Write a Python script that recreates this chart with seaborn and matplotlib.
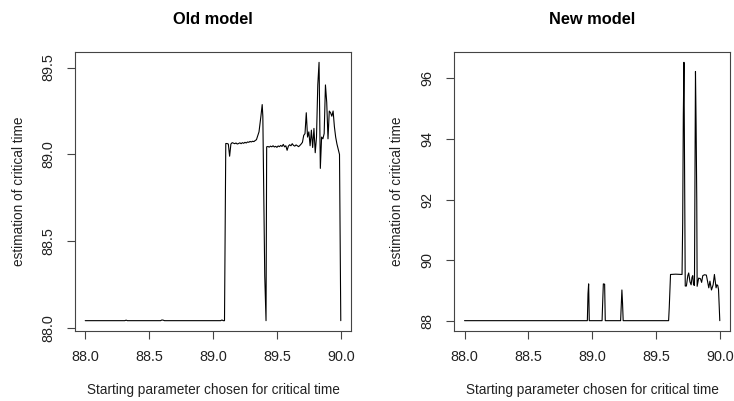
import numpy as np
import pandas as pd
import matplotlib
matplotlib.use("Agg")
import matplotlib.pyplot as plt
import seaborn as sns

# ---- Old model: estimate vs. starting parameter ----
old_x = [88.00, 88.31, 88.32, 88.33, 88.59, 88.60, 88.61, 88.62, 89.06, 89.07, 89.08, 89.09,
         89.10, 89.11, 89.12, 89.13, 89.14, 89.15, 89.16, 89.17, 89.18, 89.19, 89.20,
         89.21, 89.22, 89.23, 89.24, 89.25, 89.26, 89.27, 89.28, 89.29, 89.30, 89.31,
         89.32, 89.33, 89.34, 89.36, 89.375, 89.385, 89.39, 89.405, 89.415, 89.42,
         89.43, 89.44, 89.45, 89.46, 89.47, 89.48, 89.49, 89.50, 89.51, 89.52, 89.53,
         89.54, 89.55, 89.56, 89.57, 89.58, 89.59, 89.60, 89.61, 89.62, 89.63, 89.64,
         89.65, 89.66, 89.67, 89.68, 89.69, 89.70, 89.71, 89.72, 89.73, 89.74, 89.75,
         89.76, 89.77, 89.78, 89.79, 89.80, 89.81, 89.82, 89.83, 89.84, 89.85, 89.86,
         89.87, 89.88, 89.89, 89.90, 89.91, 89.92, 89.93, 89.94, 89.95, 89.96, 89.97,
         89.98, 89.99, 90.00]
old_y = [88.044, 88.044, 88.047, 88.044, 88.044, 88.048, 88.047, 88.044, 88.044, 88.048, 88.044, 88.044,
         89.063, 89.063, 89.060, 88.990, 89.060, 89.068, 89.065, 89.062, 89.066, 89.060, 89.063,
         89.067, 89.062, 89.068, 89.064, 89.070, 89.066, 89.072, 89.070, 89.075, 89.072, 89.076,
         89.074, 89.080, 89.085, 89.130, 89.220, 89.287, 89.220, 88.300, 88.044, 89.044,
         89.046, 89.042, 89.048, 89.044, 89.050, 89.043, 89.047, 89.041, 89.049, 89.045, 89.052,
         89.046, 89.058, 89.044, 89.050, 89.024, 89.048, 89.056, 89.050, 89.062, 89.052, 89.048,
         89.055, 89.050, 89.045, 89.052, 89.060, 89.070, 89.110, 89.120, 89.240, 89.100, 89.130,
         89.050, 89.140, 89.040, 89.150, 89.010, 89.100, 89.400, 89.530, 88.920, 89.100, 89.090,
         89.120, 89.400, 89.300, 89.090, 89.250, 89.240, 89.220, 89.250, 89.160, 89.100, 89.060,
         89.030, 89.000, 88.044]

# ---- New model: estimate vs. starting parameter ----
new_x = [88.00, 88.96, 88.965, 88.97, 88.975, 89.075, 89.08, 89.085, 89.095, 89.10,
         89.22, 89.23, 89.235, 89.24, 89.595, 89.60, 89.61, 89.65, 89.70,
         89.705, 89.71, 89.715, 89.725, 89.734, 89.745, 89.752, 89.762, 89.771, 89.778,
         89.784, 89.79, 89.797, 89.805, 89.81, 89.815, 89.818, 89.83, 89.844, 89.853,
         89.862, 89.875, 89.89, 89.90, 89.909, 89.918, 89.93, 89.943, 89.953, 89.96,
         89.966, 89.972, 89.979, 89.985, 89.99, 89.995]
new_y = [88.02, 88.02, 88.90, 89.23, 88.02, 88.02, 88.65, 89.23, 89.22, 88.02,
         88.02, 89.03, 88.60, 88.02, 88.02, 88.45, 89.54, 89.55, 89.54,
         91.23, 94.78, 96.52, 89.16, 89.16, 89.50, 89.59, 89.30, 89.20, 89.45,
         89.50, 89.20, 89.18, 96.22, 94.43, 92.00, 89.15, 89.42, 89.40, 89.28,
         89.50, 89.53, 89.52, 89.30, 89.10, 89.32, 89.03, 89.20, 89.54, 89.30,
         89.10, 89.20, 89.18, 89.05, 88.55, 88.02]

old_xticks = [88.0, 88.5, 89.0, 89.5, 90.0]
old_yticks = [88.0, 88.5, 89.0, 89.5]
new_xticks = [88.0, 88.5, 89.0, 89.5, 90.0]
new_yticks = [88, 90, 92, 94, 96]

sns.set_theme(style="ticks")
plt.rcParams["font.family"] = ["Liberation Sans", "DejaVu Sans"]

W, H = 734, 401
fig = plt.figure(figsize=(W / 100, H / 100), dpi=100)

def px_axes(left, top, right, bottom):
    return fig.add_axes([left / W, 1 - bottom / H, (right - left) / W, (bottom - top) / H])

panels = [
    (px_axes(75, 52, 351, 331), old_x, old_y, "Old model", old_xticks, old_yticks, "%.1f", -0.204),
    (px_axes(454.3, 52, 730, 331), new_x, new_y, "New model", new_xticks, new_yticks, "%d", -0.209),
]

ink = "#222222"
for ax, xs, ys, title, xt, yt, yfmt, ylab_x in panels:
    df = pd.DataFrame({"x": xs, "y": ys})
    sns.lineplot(data=df, x="x", y="y", ax=ax, color="black", linewidth=0.8,
                 estimator=None, sort=False)
    ax.margins(x=0.04, y=0.04)
    ax.set_xticks(xt)
    ax.set_xticklabels(["%.1f" % v for v in xt])
    ax.set_yticks(yt)
    ax.set_yticklabels([yfmt % v for v in yt], rotation=90, va="center")
    ax.tick_params(axis="both", direction="out", length=6, width=0.8, colors="#444444",
                   labelcolor=ink, labelsize=10.4, pad=8)
    for sp in ax.spines.values():
        sp.set_visible(True)
        sp.set_color("#444444")
        sp.set_linewidth(0.8)
    ax.set_xlabel("Starting parameter chosen for critical time", fontsize=9.8,
                  color=ink, va="center")
    ax.xaxis.set_label_coords(0.5, -0.2115)
    ax.set_ylabel("estimation of critical time", fontsize=9.8, color=ink, va="center")
    ax.yaxis.set_label_coords(ylab_x, 0.5)
    ax.set_title(title, fontsize=11.8, fontweight="bold", color="black",
                 y=1.118, va="center", pad=0)
    ax.grid(False)

fig.savefig("out.png", dpi=100, facecolor="white")
